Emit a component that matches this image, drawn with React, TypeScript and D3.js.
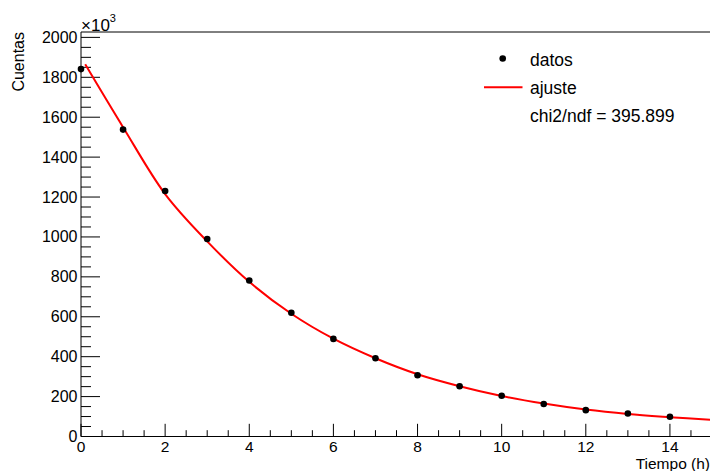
import React from "react";
import * as d3 from "d3";

const tiempo = [0, 1, 2, 3, 4, 5, 6, 7, 8, 9, 10, 11, 12, 13, 14];
const cuentas = [1841, 1538, 1230, 990, 782, 620, 489, 392, 307, 252, 204, 163, 132, 115, 99];

const ajusteT = [0.1, 1, 2, 3, 4, 5, 6, 7, 8, 9, 10, 11, 12, 13, 14, 15];
const ajusteY = [1865, 1550, 1215, 978, 775, 615, 490, 392, 312, 252, 203, 165, 135, 113, 97, 83];

const xTicks = [0, 2, 4, 6, 8, 10, 12, 14];
const yTicks = [0, 200, 400, 600, 800, 1000, 1200, 1400, 1600, 1800, 2000];

const legendLabels = ["datos", "ajuste", "chi2/ndf = 395.899"];

const W = 710;
const H = 471;
const FONT = "'Liberation Sans', Arial, Helvetica, sans-serif";

export default function App() {
  const left = 81;
  const right = 712;
  const top = 32;
  const bottom = 436.5;

  const x = d3.scaleLinear().domain([0, 15]).range([left, right]);
  const y = d3.scaleLinear().domain([0, 2027]).range([bottom, top]);

  const xMinor = d3.range(0, 15.001, 0.5).filter((v) => Math.abs(v % 2) > 1e-6);
  const yMinor = d3.range(0, 2027, 50).filter((v) => v % 200 !== 0);

  const line = d3
    .line<number>()
    .x((_, i) => x(ajusteT[i]))
    .y((d) => y(d))
    .curve(d3.curveCatmullRom.alpha(0.5));

  return (
    <svg
      width={W}
      height={H}
      style={{ position: "absolute", left: 0, top: 0, background: "#fff" }}
      fontFamily={FONT}
    >
      <defs>
        <clipPath id="plotclip">
          <rect x={left} y={top} width={right - left} height={bottom - top} />
        </clipPath>
      </defs>
      <rect x={0} y={0} width={W} height={H} fill="#fff" />

      {/* frame */}
      <line x1={left} x2={right} y1={top} y2={top} stroke="#000" strokeWidth={1} />
      <line x1={left} x2={right} y1={bottom} y2={bottom} stroke="#000" strokeWidth={1} />
      <line x1={left} x2={left} y1={top} y2={bottom} stroke="#000" strokeWidth={1} />

      {/* y ticks */}
      {yTicks.map((t) => (
        <g key={"y" + t}>
          <line x1={left} x2={left + 19} y1={y(t)} y2={y(t)} stroke="#000" strokeWidth={1} />
          <text
            x={77.5}
            y={y(t)}
            textAnchor="end"
            dominantBaseline="central"
            fontSize={16}
            fill="#000"
          >
            {t}
          </text>
        </g>
      ))}
      {yMinor.map((t) => (
        <line key={"ym" + t} x1={left} x2={left + 10} y1={y(t)} y2={y(t)} stroke="#000" strokeWidth={1} />
      ))}

      {/* x ticks */}
      {xTicks.map((t) => (
        <g key={"x" + t}>
          <line x1={x(t)} x2={x(t)} y1={bottom} y2={bottom - 12.7} stroke="#000" strokeWidth={1} />
          <text x={x(t)} y={451.8} textAnchor="middle" fontSize={15.5} fill="#000">
            {t}
          </text>
        </g>
      ))}
      {xMinor.map((t) => (
        <line key={"xm" + t} x1={x(t)} x2={x(t)} y1={bottom} y2={bottom - 6.3} stroke="#000" strokeWidth={1} />
      ))}

      {/* exponent */}
      <text x={81} y={30.5} fontSize={17} fill="#000">
        ×10
        <tspan dy={-8.5} fontSize={11}>3</tspan>
      </text>

      {/* axis titles */}
      <text x={710} y={469.3} textAnchor="end" fontSize={15.5} fill="#000">
        Tiempo (h)
      </text>
      <text
        transform={`translate(24,32) rotate(-90)`}
        textAnchor="end"
        fontSize={16}
        fill="#000"
      >
        Cuentas
      </text>

      {/* fit curve */}
      <path
        d={line(ajusteY) || ""}
        fill="none"
        stroke="#ff0000"
        strokeWidth={2}
        clipPath="url(#plotclip)"
      />

      {/* data points */}
      {tiempo.map((t, i) => (
        <circle key={"p" + i} cx={x(t)} cy={y(cuentas[i])} r={3.3} fill="#000" />
      ))}

      {/* legend */}
      <circle cx={502.7} cy={58.5} r={3.3} fill="#000" />
      <text x={530} y={65.5} fontSize={17.5} fill="#000">{legendLabels[0]}</text>
      <line x1={484} x2={522.5} y1={87.3} y2={87.3} stroke="#ff0000" strokeWidth={2} />
      <text x={530} y={93.5} fontSize={17.5} fill="#000">{legendLabels[1]}</text>
      <text x={530} y={122} fontSize={17.5} fill="#000">{legendLabels[2]}</text>
    </svg>
  );
}
